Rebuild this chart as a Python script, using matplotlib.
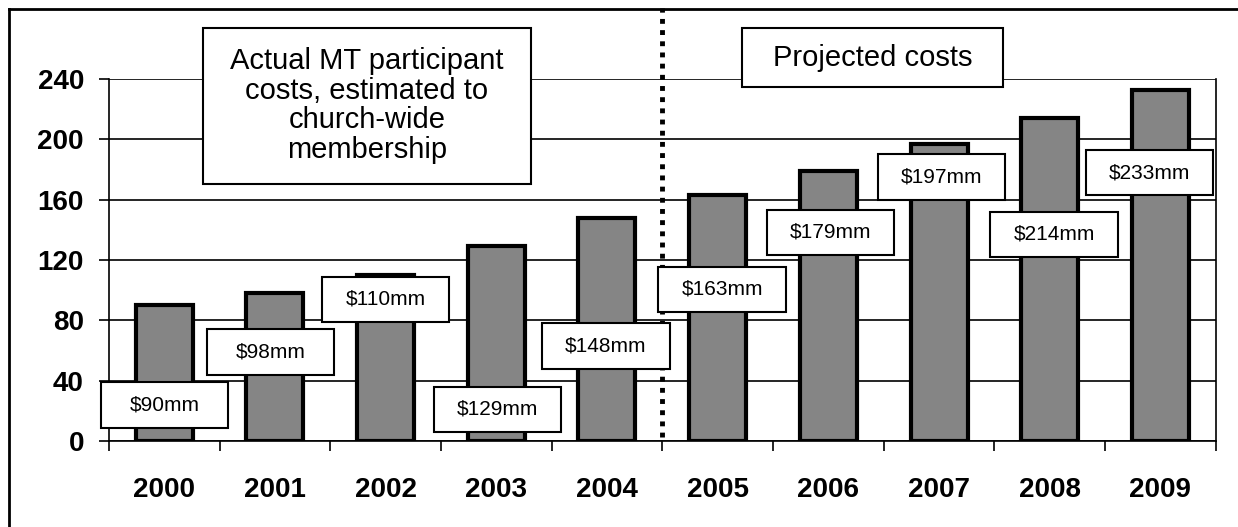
import matplotlib.pyplot as plt
from matplotlib.patches import Rectangle
from matplotlib.lines import Line2D

plt.rcParams["font.family"] = ["Liberation Sans", "DejaVu Sans"]

years = ["2000", "2001", "2002", "2003", "2004",
         "2005", "2006", "2007", "2008", "2009"]
costs = [90, 98, 110, 129, 148, 163, 179, 197, 214, 233]
labels = ["$%dmm" % c for c in costs]

# where each value label box sits (category x, value y)
label_x = [0.0, 0.96, 2.0, 3.01, 3.99, 5.04, 6.02, 7.02, 8.04, 8.9]
label_y = [24, 59, 94, 21, 63, 100.5, 138.5, 175, 137, 178]

yticks = [0, 40, 80, 120, 160, 200, 240]

fig = plt.figure(figsize=(12.38, 5.27), dpi=100)
ax = fig.add_axes([0.088, 0.163, 0.894, 0.687])

x = list(range(len(years)))
ax.bar(x, costs, width=0.515, color="#858585", edgecolor="black",
       linewidth=3, zorder=3)

ax.set_xlim(-0.5, 9.5)
ax.set_ylim(0, 240)
ax.set_yticks(yticks)
ax.set_yticklabels([str(t) for t in yticks], fontsize=20, fontweight="bold")
ax.yaxis.grid(True, color="black", linewidth=1.2, zorder=0)
ax.set_axisbelow(True)

ax.set_xticks(x)
ax.set_xticklabels(years, fontsize=20, fontweight="bold")
ax.set_xticks([i - 0.5 for i in range(len(years) + 1)], minor=True)
ax.tick_params(axis="x", which="major", length=0, pad=26)
ax.tick_params(axis="x", which="minor", length=7, width=1.2, color="black")
ax.tick_params(axis="y", length=7, width=1.2, pad=11)

ax.spines["top"].set_visible(False)
for side in ["left", "right", "bottom"]:
    ax.spines[side].set_linewidth(1.2)

# split between actual and projected years
ax.plot([4.5, 4.5], [3, 287], color="black", linewidth=3.5,
        linestyle=(0, (1, 1.3)), dash_capstyle="butt",
        clip_on=False, zorder=4)

# value boxes
for lx, ly, txt in zip(label_x, label_y, labels):
    ax.add_patch(Rectangle((lx - 0.575, ly - 15), 1.15, 30,
                           facecolor="white", edgecolor="black",
                           linewidth=1.5, zorder=5, clip_on=False))
    ax.text(lx, ly, txt, ha="center", va="center", fontsize=15, zorder=6)

# section headings
ax.add_patch(Rectangle((0.35, 170.5), 2.96, 103.5, facecolor="white",
                       edgecolor="black", linewidth=1.5, zorder=5,
                       clip_on=False))
ax.text(1.83, 222.5, "Actual MT participant\ncosts, estimated to\nchurch-wide\nmembership",
        ha="center", va="center", fontsize=21, linespacing=1.08, zorder=6)

ax.add_patch(Rectangle((5.22, 234.5), 2.36, 39.5, facecolor="white",
                       edgecolor="black", linewidth=1.5, zorder=5,
                       clip_on=False))
ax.text(6.4, 254, "Projected costs", ha="center", va="center",
        fontsize=21, zorder=6)

# frame along the top and left of the figure
fig.add_artist(Line2D([0.0073, 1.0], [0.983, 0.983], color="black", linewidth=2))
fig.add_artist(Line2D([0.0073, 0.0073], [0.0, 0.983], color="black", linewidth=2))

fig.savefig("out.png", dpi=100)
